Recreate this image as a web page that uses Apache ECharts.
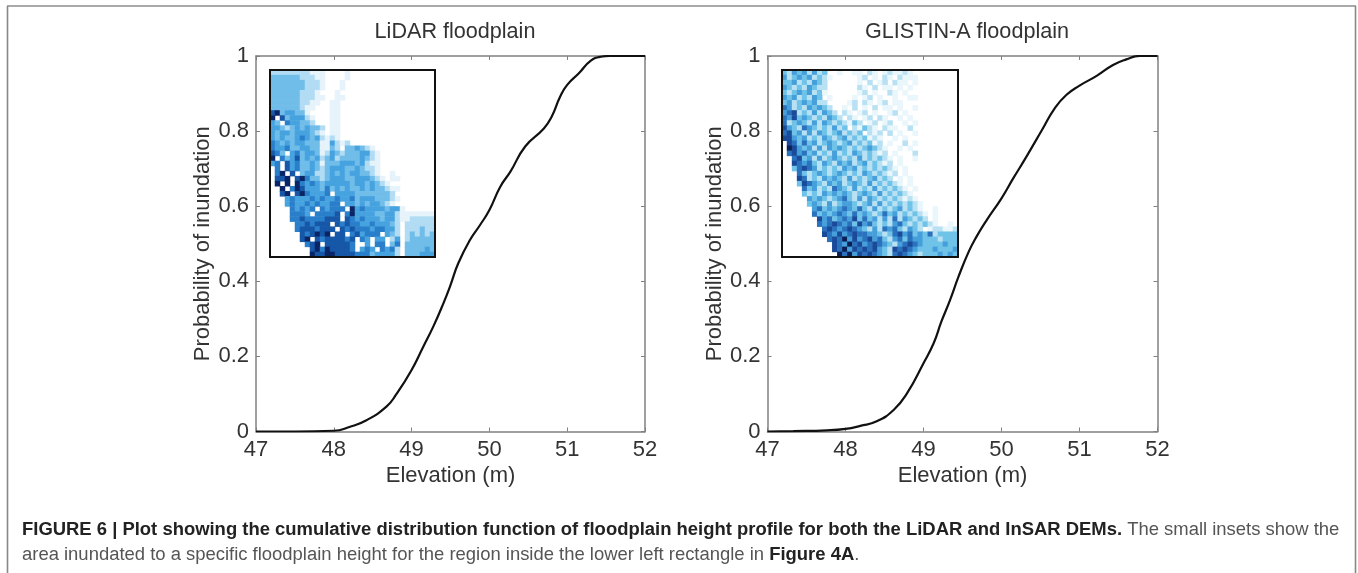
<!DOCTYPE html>
<html><head><meta charset="utf-8">
<style>html,body{margin:0;padding:0;background:#fff}#c{width:1358px;height:573px}</style>
<script src="https://cdn.jsdelivr.net/npm/echarts@6/dist/echarts.min.js"></script>
</head><body><div id="c"></div>
<script>
const xTicks = [47, 48, 49, 50, 51, 52];
const lidarElevation = [47,47.5,48,48.2,48.42,48.68,48.8,49,49.15,49.28,49.41,49.5,49.6,49.75,49.88,50,50.14,50.27,50.46,50.7,50.8,50.91,51,51.15,51.3,51.43,51.55,52];
const lidarProb = [0,0,0.002,0.012,0.03,0.067,0.098,0.164,0.226,0.28,0.342,0.39,0.448,0.51,0.55,0.59,0.652,0.692,0.759,0.807,0.838,0.892,0.923,0.954,0.987,0.998,1,1];
const glistinElevation = [47,47.33,47.76,48,48.19,48.4,48.62,48.79,49,49.13,49.23,49.34,49.45,49.58,49.68,49.81,50,50.15,50.32,50.53,50.68,50.83,51,51.22,51.43,51.6,51.77,52];
const glistinProb = [0,0.001,0.003,0.007,0.015,0.027,0.058,0.102,0.182,0.235,0.293,0.35,0.413,0.479,0.519,0.563,0.621,0.674,0.732,0.807,0.86,0.896,0.921,0.947,0.976,0.991,1,1];
const lidarInsetRows = [
"222222221110000100",
"33333322211000010",
"33333332221000100",
"33333332221000100",
"3333332221000100",
"3333332221100110",
"3333332211001100",
"3333332110001100",
"6734433100001100",
"7063444210001100",
"4305443320001100",
"4432343433201100",
"4344344432101100",
"4343345434212100",
"5434344333114212",
"54453344331132033432100",
"65304534431243233344210",
"70534634342342333343210",
"45064533431333444342110",
"0506453343234443343221",
"05706034422343434433210010",
"06670675332344433444321011",
"07070754543444443443432100",
"00705764443534343343433211",
"00670675444504444333333320",
"00045444545445445344433321",
"00045445454455044343443210000",
"00005454505455507454444344100",
"000055540555560574444334421111111",
"000055655556660654544434421122222",
"000005565666065655445444320222222",
"000005666566606565554554420222322",
"000000656767066056455504320232323",
"000000670656666560540440240233333",
"000000056706666650040550350333333",
"000000006757666650454054520333343",
"000000007667766665553444420333444"
];
const glistinInsetRows = [
"3243424230010011021012112100",
"4234342321000001201021021110",
"3342324320000001020120211010",
"4323243220000002102011010100",
"3234342310000001201002101000",
"4342324301000010120100100110",
"3423434220000120210120110000",
"5423243432001020102011010010",
"4562324243202101201001201000",
"5463432324320210120210010100",
"5234324243232132012012001010",
"6432543232423021321021100200",
"5634242432342323021202010010",
"6643423243234232312100101000",
"0653534234323423231201002010",
"0764342424343232343210010100",
"0564534232423243232120100020",
"0056342423432324232321010010",
"0065453243243423423212010000",
"0035654232324342323232101000",
"0005323432343232432321201000",
"0006523243432423234232010100",
"0003654324342343242323210100",
"0000534232543242324232321010",
"0000323243434323432423232100",
"0000043432345324243232321210",
"0000034324234432342423232321",
"0000004534345435324232342321001",
"0000005343454353432353423232101",
"0000000645345463534242524323201",
"0000000545654536453232453232321001",
"00000000565456543242545324320122112",
"00000000654645655443235645343523333",
"00000000056574645645324535443332333",
"00000000006547564565432456543333433",
"00000000006574656564326565433343334",
"00000000000757465654325654323334343"
];
const panelTitles = ['LiDAR floodplain', 'GLISTIN-A floodplain'];
const xName = 'Elevation (m)', yName = 'Probability of inundation';
const captionBold = 'FIGURE 6 | Plot showing the cumulative distribution function of floodplain height profile for both the LiDAR and InSAR DEMs.';
const captionRest1 = ' The small insets show the';
const captionRest2 = 'area inundated to a specific floodplain height for the region inside the lower left rectangle in ';
const captionFig = 'Figure 4A';

const F = '"Liberation Sans", Arial, sans-serif';
const TXT = '#333';
const AX = '#808080';
const CAP = 18.45;
const mains = [{left:256,right:645,top:56,bottom:431.5},{left:767.5,right:1157.5,top:56,bottom:431.5}];
const insets = [{left:270,right:435,top:70,bottom:257,cols:33},{left:782,right:958,top:70,bottom:257,cols:35}];
const gridOf = b => ({left:b.left,top:b.top,width:b.right-b.left,height:b.bottom-b.top,show:false});
const tick = {show:true,inside:true,length:4,lineStyle:{color:AX,width:1}};
const line = {show:true,lineStyle:{color:AX,width:1.5}};
const xAxes=[],yAxes=[];
[0,1].forEach(i=>{
  xAxes.push({type:'value',gridIndex:i,min:47,max:52,interval:1,position:'bottom',axisLine:{...line,onZero:false},axisTick:tick,splitLine:{show:false},
    axisLabel:{color:TXT,fontFamily:F,fontSize:22,margin:7,formatter:v=>String(v),showMinLabel:true,showMaxLabel:true,hideOverlap:false},
    name:xName,nameLocation:'middle',nameGap:29,nameTextStyle:{color:TXT,fontFamily:F,fontSize:22}});
  xAxes.push({type:'value',gridIndex:i,min:47,max:52,interval:1,position:'top',axisLine:{...line,onZero:false},axisTick:tick,axisLabel:{show:false},splitLine:{show:false}});
  yAxes.push({type:'value',gridIndex:i,min:0,max:1,interval:0.2,position:'left',axisLine:{...line,onZero:false},axisTick:tick,splitLine:{show:false},
    axisLabel:{color:TXT,fontFamily:F,fontSize:22,margin:7,formatter:v=>String(+v.toFixed(1)),showMinLabel:true,showMaxLabel:true,hideOverlap:false},
    name:yName,nameLocation:'middle',nameGap:42,nameTextStyle:{color:TXT,fontFamily:F,fontSize:22}});
  yAxes.push({type:'value',gridIndex:i,min:0,max:1,interval:0.2,position:'right',axisLine:{...line,onZero:false},axisTick:tick,axisLabel:{show:false},splitLine:{show:false}});
});
const insetRows=[lidarInsetRows,glistinInsetRows];
[0,1].forEach(i=>{
  const n=insets[i].cols;
  xAxes.push({type:'category',gridIndex:i+2,data:Array.from({length:n},(_,k)=>k),show:false});
  yAxes.push({type:'category',gridIndex:i+2,inverse:true,data:insetRows[i].map((_,k)=>k),show:false});
});
const cells=rows=>{const out=[];rows.forEach((r,y)=>{[...r].forEach((ch,x)=>{if(ch!=='0')out.push([x,y,+ch]);});});return out;};
const lineSeries=(i,xs,ys)=>({type:'line',xAxisIndex:i*2,yAxisIndex:i*2,data:xs.map((x,k)=>[x,ys[k]]),showSymbol:false,smooth:0.5,lineStyle:{color:'#111',width:2.2},silent:true,z:3});
const heat=(i)=>({type:'heatmap',xAxisIndex:4+i,yAxisIndex:4+i,data:cells(insetRows[i]),silent:true,progressive:0,emphasis:{disabled:true},itemStyle:{borderWidth:0},z:4});
const frame=b=>({type:'rect',shape:{x:b.left,y:b.top,width:b.right-b.left,height:b.bottom-b.top},style:{fill:'none',stroke:'#111',lineWidth:2},z:100,silent:true});
const rich={b:{fontFamily:F,fontSize:CAP,fontWeight:'bold',fill:'#222'},r:{fontFamily:F,fontSize:CAP,fill:'#555'}};
const chart=echarts.init(document.getElementById('c'),null,{renderer:'canvas'});
chart.setOption({
  animation:false,backgroundColor:'#fff',
  grid:[...mains.map(gridOf),...insets.map(gridOf)],
  xAxis:xAxes,yAxis:yAxes,
  visualMap:[{show:false,type:'continuous',seriesIndex:[2],dimension:2,min:0,max:7,inRange:{color:['#ffffff','#e6f3fb','#b2dcf3','#70bde9','#46a3df','#2a7fcb','#1657a8','#0a2566']}},
             {show:false,type:'continuous',seriesIndex:[3],dimension:2,min:0,max:7,inRange:{color:['#ffffff','#e9f6fb','#b8e1f3','#70c3e8','#459fda','#2a72bd','#1a4b9a','#0a1f55']}}],
  title:[
    {text:panelTitles[0],left:450,top:16,textAlign:'center',textStyle:{color:TXT,fontFamily:F,fontSize:21.6,fontWeight:'normal'}},
    {text:panelTitles[1],left:962,top:16,textAlign:'center',textStyle:{color:TXT,fontFamily:F,fontSize:21.6,fontWeight:'normal'}}
  ],
  graphic:[
    {type:'line',shape:{x1:7,y1:6,x2:1356,y2:6},style:{stroke:'#555',lineWidth:1.2},silent:true},
    {type:'line',shape:{x1:7.5,y1:6,x2:7.5,y2:573},style:{stroke:'#888',lineWidth:1.6},silent:true},
    {type:'line',shape:{x1:1355.5,y1:6,x2:1355.5,y2:573},style:{stroke:'#888',lineWidth:1.6},silent:true},
    frame(insets[0]),frame(insets[1]),
    {type:'text',x:22,y:521,silent:true,style:{rich,text:'{b|'+captionBold+'}{r|'+captionRest1+'}',textVerticalAlign:'top'}},
    {type:'text',x:22,y:546,silent:true,style:{rich,text:'{r|'+captionRest2+'}{b|'+captionFig+'}{r|.}',textVerticalAlign:'top'}}
  ],
  series:[lineSeries(0,lidarElevation,lidarProb),lineSeries(1,glistinElevation,glistinProb),heat(0),heat(1)]
});
</script></body></html>
